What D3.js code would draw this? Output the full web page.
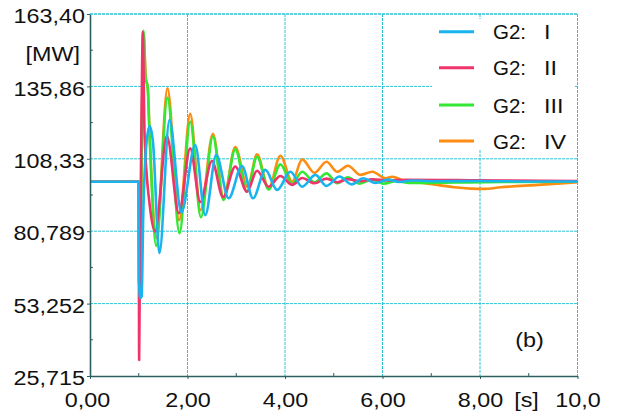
<!DOCTYPE html>
<html>
<head>
<meta charset="utf-8">
<script src="https://cdn.jsdelivr.net/npm/d3@7"></script>
<style>
  html, body { margin: 0; padding: 0; background: #ffffff; }
  svg { display: block; }
  text { font-family: "Liberation Sans", Arial, sans-serif; fill: #111; }
</style>
</head>
<body>
<svg id="chart" width="617" height="417"></svg>
<script>
// ---------------- data ----------------
const seriesNames = ["G2: I", "G2: II", "G2: III", "G2: IV"];
const seriesColors = ["#19b4ef", "#f0336a", "#33e833", "#ff8c12"];

const yTickValues = [25.715, 53.252, 80.789, 108.327, 135.864, 163.40];
const yTickLabels = ["25,715", "53,252", "80,789", "108,33", "135,86", "163,40"];
const xTickValues = [0, 2, 4, 6, 8, 10];
const xTickLabels = ["0,00", "2,00", "4,00", "6,00", "8,00", "10,0"];

// G2: I (blue)
const timeI = [0, 1.0, 1.006, 1.03, 1.06, 1.09, 1.165, 1.225, 1.29, 1.424, 1.630, 1.875, 2.158, 2.364, 2.590, 2.843, 3.118, 3.344, 3.597, 3.838, 4.111, 4.352, 4.625, 4.851, 5.118, 5.365, 5.61, 5.858, 6.105, 6.35, 6.6, 7.0, 8.0, 9.0, 10.0];
const valuesI = [99.6, 99.6, 62, 55.4, 56.0, 85, 115.5, 120.8, 115, 72.5, 123.1, 88.0, 113.6, 86.9, 109.8, 93.3, 105.6, 93.3, 104.1, 96.5, 103.4, 97.7, 102.2, 98.0, 101.6, 98.6, 100.9, 99.1, 100.4, 99.5, 100.1, 99.8, 99.9, 99.7, 99.7];

// G2: II (red)
const timeII = [0, 1.0, 1.008, 1.02, 1.06, 1.083, 1.12, 1.23, 1.336, 1.577, 1.822, 2.055, 2.261, 2.502, 2.728, 2.98, 3.221, 3.426, 3.665, 3.905, 4.146, 4.352, 4.604, 4.851, 5.071, 5.289, 5.55, 5.8, 6.1, 6.5, 7.5, 8.5, 10.0];
const valuesII = [99.6, 99.6, 31.8, 60, 130, 156.5, 117, 90, 80.7, 117.0, 87.6, 112.3, 91.9, 107.5, 93.8, 105.4, 95.8, 103.8, 97.7, 101.8, 98.4, 101.0, 99.0, 100.8, 99.4, 100.6, 99.8, 100.5, 100.1, 100.3, 100.2, 100.1, 99.9];

// G2: III (green)
const timeIII = [0, 1.0, 1.008, 1.03, 1.07, 1.097, 1.14, 1.18, 1.22, 1.357, 1.589, 1.836, 2.055, 2.275, 2.522, 2.74, 2.98, 3.221, 3.426, 3.665, 3.905, 4.146, 4.352, 4.604, 4.851, 5.071, 5.289, 5.53, 5.78, 6.02, 6.27, 6.6, 7.5, 8.5, 10.0];
const valuesIII = [99.6, 99.6, 60, 62, 130, 157.0, 139, 136, 118, 75.2, 131.6, 80.0, 122.4, 86.1, 116.8, 92.7, 111.9, 95.8, 109.1, 96.7, 106.2, 98.7, 103.4, 99.4, 102.8, 99.0, 101.3, 98.9, 100.4, 98.9, 99.8, 99.1, 99.3, 99.5, 99.6];

// G2: IV (orange)
const timeIV = [0, 1.0, 1.008, 1.03, 1.07, 1.10, 1.145, 1.185, 1.225, 1.36, 1.589, 1.829, 2.055, 2.268, 2.522, 2.74, 2.98, 3.23, 3.426, 3.665, 3.905, 4.146, 4.352, 4.604, 4.851, 5.071, 5.289, 5.55, 5.79, 6.064, 6.201, 6.44, 6.783, 7.127, 7.468, 7.811, 8.084, 8.428, 9.182, 10.0];
const valuesIV = [99.6, 99.6, 60, 62, 128, 155.8, 139, 135.5, 117, 78.2, 135.1, 85.0, 125.4, 88.8, 117.8, 93.4, 112.8, 97.6, 110.0, 97.1, 109.5, 99.6, 108.1, 103.0, 107.2, 103.4, 105.7, 102.2, 103.4, 100.9, 101.5, 100.0, 99.2, 98.4, 97.5, 97.0, 96.9, 97.5, 98.4, 99.4];

const seriesTimes = [timeI, timeII, timeIII, timeIV];
const seriesValues = [valuesI, valuesII, valuesIII, valuesIV];

// ---------------- layout ----------------
const svg = d3.select("#chart");
const X0 = 90, X1 = 577.5, Y0 = 376, Y1 = 14;
const x = d3.scaleLinear().domain([0, 10]).range([X0, X1]);
const y = d3.scaleLinear().domain([25.715, 163.40]).range([Y0, Y1]);

const gridColor = "#2cc4d4";
const axisColor = "#2e5f60";
const FS = 20.5;
const STRETCH = 1.14;

function stretch(sel, k) {
  sel.each(function () {
    const w = this.getComputedTextLength();
    this.setAttribute("textLength", w * k);
    this.setAttribute("lengthAdjust", "spacingAndGlyphs");
  });
}

// grid
const grid = svg.append("g");
grid.selectAll("line.h").data(yTickValues.slice(1)).join("line")
  .attr("x1", X0).attr("x2", X1)
  .attr("y1", d => y(d)).attr("y2", d => y(d))
  .attr("stroke", gridColor).attr("stroke-width", 1).attr("stroke-dasharray", "3,1");
grid.selectAll("line.v").data(xTickValues.slice(1)).join("line")
  .attr("x1", d => x(d)).attr("x2", d => x(d))
  .attr("y1", Y1).attr("y2", Y0)
  .attr("stroke", gridColor).attr("stroke-width", 1).attr("stroke-dasharray", "3,1");

// legend background (covers grid)
svg.append("rect").attr("x", 432).attr("y", 19).attr("width", 143).attr("height", 131).attr("fill", "#fff");

// series (I on top)
const line = d3.line().curve(d3.curveMonotoneX);
const order = [3, 2, 1, 0];
svg.append("g").selectAll("path").data(order).join("path")
  .attr("d", i => line(seriesTimes[i].map((t, j) => [x(t), y(seriesValues[i][j])])))
  .attr("fill", "none")
  .attr("stroke", i => seriesColors[i])
  .attr("stroke-width", 2.6)
  .attr("stroke-linejoin", "round");

// axes
const yAxis = d3.axisLeft(y).tickValues(yTickValues).tickSize(3).tickSizeOuter(0)
  .tickFormat((d, i) => yTickLabels[i]);
const gy = svg.append("g").attr("transform", `translate(${X0},0)`).call(yAxis);
gy.select(".domain").attr("stroke", axisColor).attr("stroke-width", 1.6);
gy.selectAll(".tick line").attr("stroke", axisColor);
gy.selectAll(".tick text").attr("font-size", FS).attr("font-family", "Liberation Sans, Arial, sans-serif")
  .attr("fill", "#111").attr("x", -5).attr("dy", null).attr("y", 8.6);
stretch(gy.selectAll(".tick text"), STRETCH);

const yMinor = yTickValues.slice(0, -1).map((v, i) => (v + yTickValues[i + 1]) / 2);
svg.append("g").selectAll("line").data(yMinor).join("line")
  .attr("x1", X0).attr("x2", X0 + 3).attr("y1", d => y(d)).attr("y2", d => y(d))
  .attr("stroke", axisColor);

const xAxis = d3.axisBottom(x).tickValues(xTickValues).tickSize(3).tickSizeOuter(0)
  .tickFormat((d, i) => xTickLabels[i]);
const gx = svg.append("g").attr("transform", `translate(0,${Y0})`).call(xAxis);
gx.select(".domain").attr("stroke", axisColor).attr("stroke-width", 1.6);
gx.selectAll(".tick line").attr("stroke", axisColor);
gx.selectAll(".tick text").attr("font-size", FS).attr("font-family", "Liberation Sans, Arial, sans-serif")
  .attr("fill", "#111").attr("dy", null).attr("y", 31);
gx.selectAll(".tick").filter(d => d === 0).select("text").attr("dx", -3);
stretch(gx.selectAll(".tick text"), STRETCH);

const xMinor = [1, 3, 5, 7, 9];
svg.append("g").selectAll("line").data(xMinor).join("line")
  .attr("x1", d => x(d)).attr("x2", d => x(d)).attr("y1", Y0).attr("y2", Y0 - 3)
  .attr("stroke", axisColor);

// top/right borders
svg.append("line").attr("x1", X0).attr("x2", X1).attr("y1", Y1).attr("y2", Y1)
  .attr("stroke", gridColor).attr("stroke-dasharray", "3,1");
svg.append("line").attr("x1", X1).attr("x2", X1).attr("y1", Y1).attr("y2", Y0)
  .attr("stroke", gridColor).attr("stroke-dasharray", "3,1");

// unit labels
const unitY = svg.append("text").attr("x", 80).attr("y", 60.5).attr("text-anchor", "end")
  .attr("font-size", FS).text("[MW]");
stretch(unitY, STRETCH);
const unitX = svg.append("text").attr("x", 526.5).attr("y", 407).attr("text-anchor", "middle")
  .attr("font-size", FS).text("[s]");
stretch(unitX, STRETCH);
const panel = svg.append("text").attr("x", 529.5).attr("y", 347).attr("text-anchor", "middle")
  .attr("font-size", FS).text("(b)");
stretch(panel, STRETCH);

// legend
const legendY = [31.7, 67.7, 105, 141];
const lg = svg.append("g");
seriesNames.forEach((name, i) => {
  lg.append("line").attr("x1", 439).attr("x2", 474).attr("y1", legendY[i]).attr("y2", legendY[i])
    .attr("stroke", seriesColors[i]).attr("stroke-width", 3);
  const parts = name.split(" ");
  const t = lg.append("text").attr("x", 493).attr("y", legendY[i] + 7.6).attr("font-size", FS);
  const a = t.append("tspan").text(parts[0] + " ");
  const b = t.append("tspan").attr("x", 544).text(parts[1]);
  stretch(b, STRETCH);
});
</script>
</body>
</html>
